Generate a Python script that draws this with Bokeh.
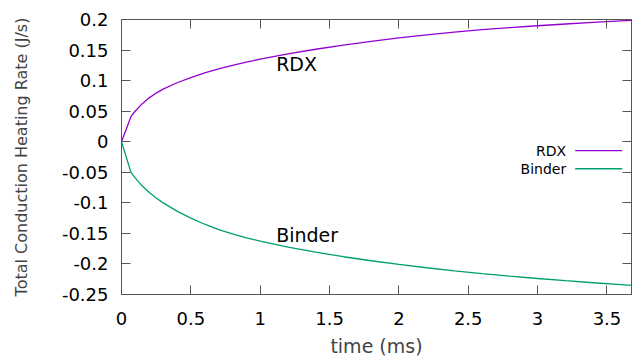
from bokeh.plotting import figure
from bokeh.models import Range1d, LinearAxis, FixedTicker
from bokeh.core.properties import value
from bokeh.embed import file_html
from bokeh.resources import INLINE

# data
time_ms = [0, 0.068, 0.1, 0.15, 0.2, 0.25, 0.3, 0.4, 0.5, 0.6, 0.7, 0.8, 0.9,
           1.0, 1.2, 1.4, 1.6, 1.8, 2.0, 2.2, 2.4, 2.6, 2.8, 3.0, 3.2, 3.4,
           3.6, 3.677]
rdx = [0, 0.041, 0.0503, 0.0623, 0.0718, 0.0796, 0.0860, 0.0965, 0.1050,
       0.1125, 0.1191, 0.1250, 0.1303, 0.1351, 0.1437, 0.1513, 0.1581,
       0.1643, 0.1699, 0.1749, 0.1795, 0.1833, 0.1867, 0.1898, 0.1926,
       0.1952, 0.1976, 0.1985]
binder = [0, -0.050, -0.0596, -0.0726, -0.0831, -0.0921, -0.1001, -0.1136,
          -0.1251, -0.1350, -0.1437, -0.1509, -0.1572, -0.1628, -0.1724,
          -0.1808, -0.1882, -0.1948, -0.2008, -0.2062, -0.2112, -0.2158,
          -0.2200, -0.2238, -0.2274, -0.2308, -0.2340, -0.2352]

x_ticks = [0, 0.5, 1, 1.5, 2, 2.5, 3, 3.5]
x_tick_labels = ["0", "0.5", "1", "1.5", "2", "2.5", "3", "3.5"]
y_ticks = [-0.25, -0.2, -0.15, -0.1, -0.05, 0, 0.05, 0.1, 0.15, 0.2]
y_tick_labels = ["-0.25", "-0.2", "-0.15", "-0.1", "-0.05", "0", "0.05", "0.1", "0.15", "0.2"]

series_names = ["RDX", "Binder"]
colors = ["#9400d3", "#009e73"]
x_title = "time (ms)"
y_title = "Total Conduction Heating Rate (J/s)"

FONT = "DejaVu Sans"
AX = "#555555"

p = figure(width=636, height=363, output_backend="svg", toolbar_location=None,
           x_range=Range1d(0, 3.677), y_range=Range1d(-0.25, 0.2),
           min_border_left=121, min_border_right=5, min_border_top=19,
           min_border_bottom=69)
p.background_fill_color = "white"
p.border_fill_color = "white"
p.grid.visible = False
p.outline_line_color = AX
p.outline_line_width = 1

p.line(time_ms, rdx, line_color=colors[0], line_width=1.3)
p.line(time_ms, binder, line_color=colors[1], line_width=1.3)

def style(ax, ticks, labels, show_labels=True):
    ax.ticker = FixedTicker(ticks=ticks)
    ax.minor_tick_line_color = None
    ax.major_tick_in = 9
    ax.major_tick_out = 0
    ax.major_tick_line_color = AX
    ax.axis_line_color = AX
    ax.major_label_text_font = FONT
    ax.major_label_text_color = "black"
    ax.major_label_text_font_size = "18px"
    if show_labels:
        ax.major_label_overrides = {t: l for t, l in zip(ticks, labels)}
    else:
        ax.major_label_overrides = {t: "" for t in ticks}
        ax.major_label_standoff = 0

xa = p.xaxis[0]
ya = p.yaxis[0]
style(xa, x_ticks, x_tick_labels)
style(ya, y_ticks, y_tick_labels)
xa.major_label_standoff = 17
ya.major_label_standoff = 13
xa.axis_label = x_title
xa.axis_label_text_font = FONT
xa.axis_label_text_font_size = "19px"
xa.axis_label_text_font_style = "normal"
xa.axis_label_standoff = 7
ya.axis_label = y_title
ya.axis_label_text_font = FONT
ya.axis_label_text_font_size = "16px"
ya.axis_label_text_font_style = "normal"
ya.axis_label_standoff = 28

top = LinearAxis()
style(top, x_ticks, x_tick_labels, show_labels=False)
p.add_layout(top, "above")
right = LinearAxis()
style(right, y_ticks, y_tick_labels, show_labels=False)
p.add_layout(right, "right")

# in-plot curve labels
label_x = [1.115, 1.115]
label_y = [0.128, -0.1525]
p.text(x=label_x, y=label_y, text=series_names, text_font=value(FONT),
       text_font_size="19px", text_baseline="middle", text_align="left",
       text_color="black")

# key (text left, sample line right)
key_text_x = [3.206, 3.206]
key_line_x0 = 3.271
key_line_x1 = 3.610
key_y = [-0.0147, -0.0442]
p.text(x=key_text_x, y=key_y, text=series_names, text_font=value(FONT),
       text_font_size="14px", text_baseline="middle", text_align="right",
       text_color="black")
for c, ky in zip(colors, key_y):
    p.line([key_line_x0, key_line_x1], [ky, ky], line_color=c, line_width=1.3)

open("out.html", "w").write(file_html(p, INLINE))
